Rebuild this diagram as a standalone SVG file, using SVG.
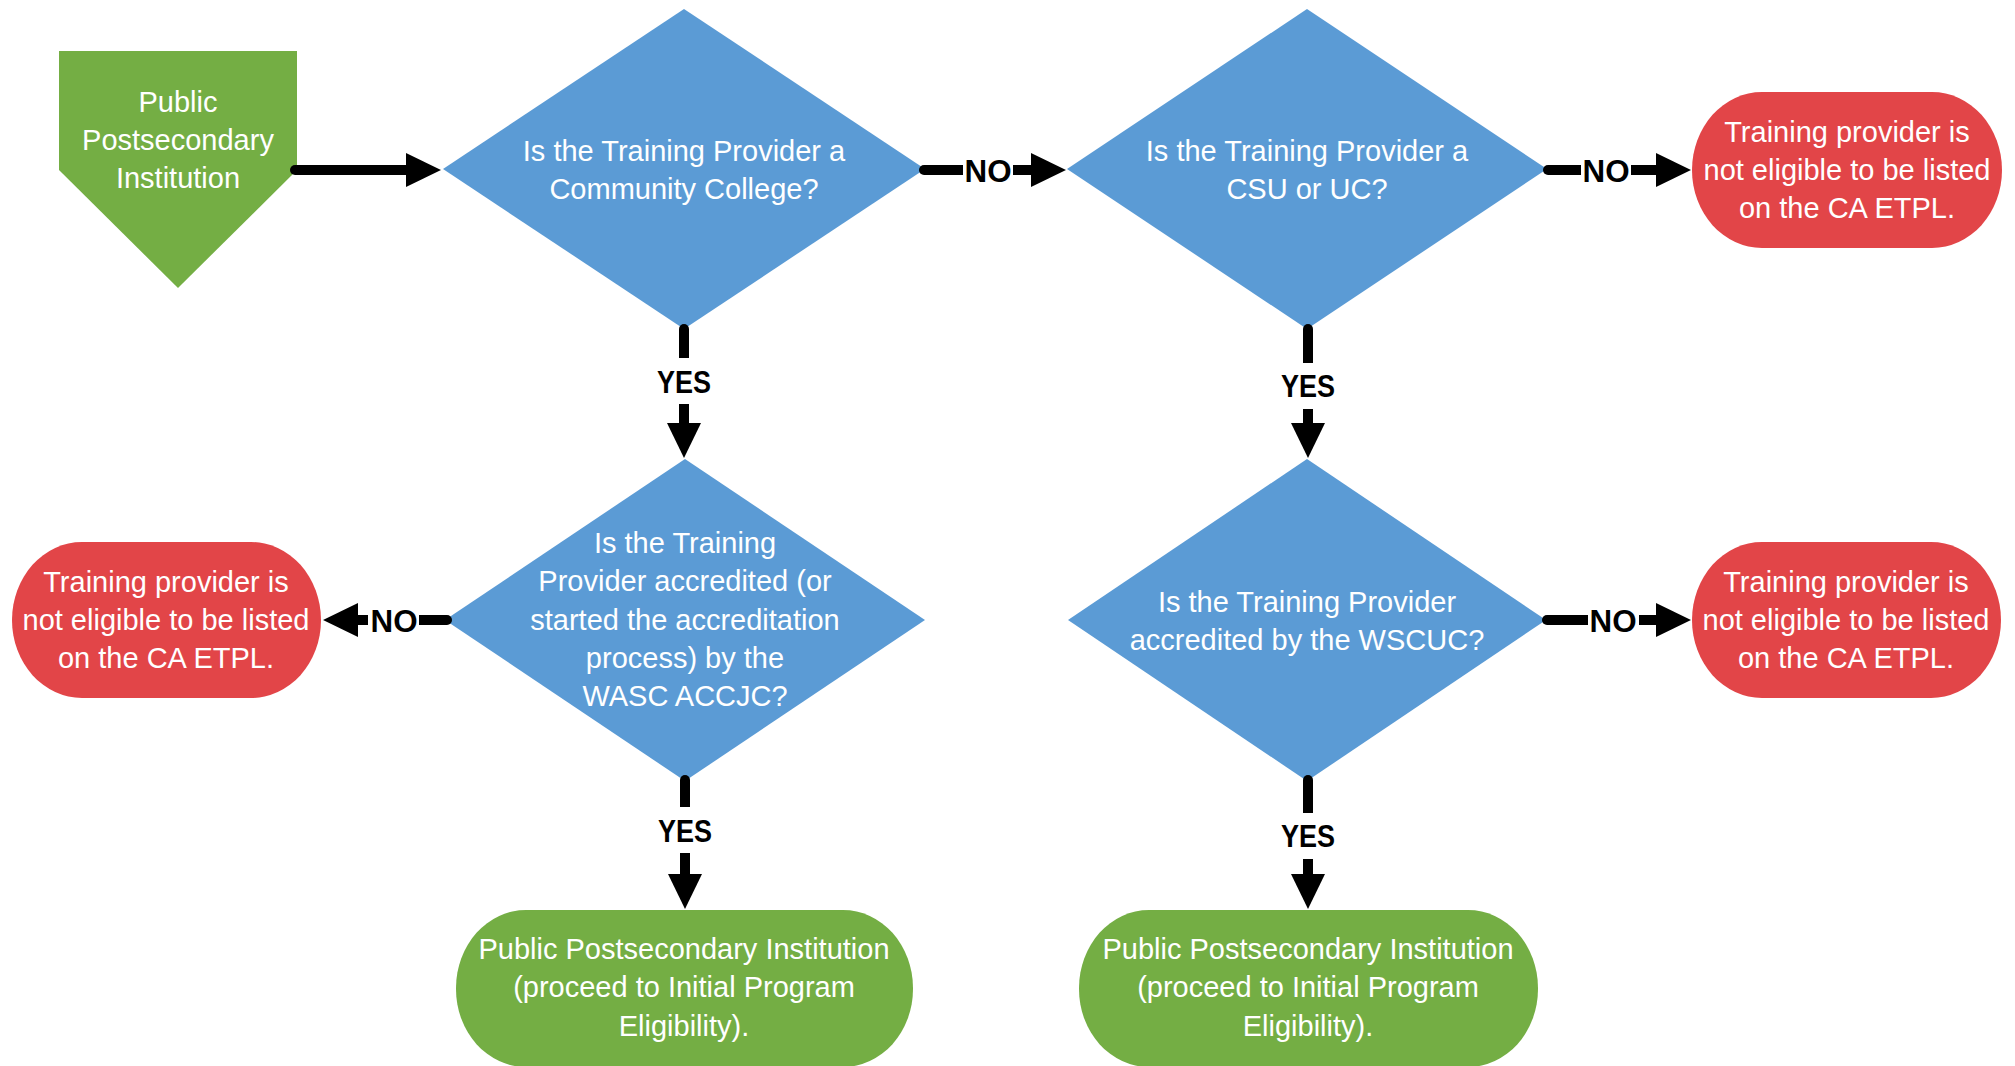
<svg xmlns="http://www.w3.org/2000/svg" width="2015" height="1066" viewBox="0 0 2015 1066">
<style>
.t{font-family:"Liberation Sans",Arial,sans-serif;font-size:29px;fill:#ffffff;text-anchor:middle}
.lbl{font-family:"Liberation Sans",Arial,sans-serif;font-size:32px;font-weight:bold;fill:#000000;text-anchor:middle}
.dec{fill:#5B9BD5}
.term-red{fill:#E24548}
.term-green{fill:#74AE44}
.conn{fill:none;stroke:#000000;stroke-width:10;stroke-linecap:round;marker-end:url(#ah)}
.bg{fill:#ffffff}
</style>
<defs>
<marker id="ah" markerUnits="userSpaceOnUse" markerWidth="36" markerHeight="34" refX="0" refY="17" orient="auto" overflow="visible">
<path d="M0,0 L35,17 L0,34 Z" fill="#000000"/>
</marker>
</defs>
<rect width="2015" height="1066" fill="#ffffff"/>

<g id="start">
<polygon class="term-green" points="59,51 297,51 297,170 178,288 59,170"/>
<text class="t" x="178" y="112">Public</text>
<text class="t" x="178" y="150">Postsecondary</text>
<text class="t" x="178" y="188">Institution</text>
</g>

<g id="d1">
<polygon class="dec" points="684,9 925,169 684,329 443,169"/>
<text class="t" x="684" y="161">Is the Training Provider a</text>
<text class="t" x="684" y="199">Community College?</text>
</g>

<g id="d2">
<polygon class="dec" points="1307,9 1547,169 1307,329 1067,169"/>
<text class="t" x="1307" y="161">Is the Training Provider a</text>
<text class="t" x="1307" y="199">CSU or UC?</text>
</g>

<g id="r1">
<rect class="term-red" x="1692" y="92" width="310" height="156" rx="70" ry="78"/>
<text class="t" x="1847" y="142">Training provider is</text>
<text class="t" x="1847" y="180">not eligible to be listed</text>
<text class="t" x="1847" y="218">on the CA ETPL.</text>
</g>

<g id="d3">
<polygon class="dec" points="685,459 925,620 685,781 445,620"/>
<text class="t" x="685" y="553">Is the Training</text>
<text class="t" x="685" y="591">Provider accredited (or</text>
<text class="t" x="685" y="630">started the accreditation</text>
<text class="t" x="685" y="668">process) by the</text>
<text class="t" x="685" y="706">WASC ACCJC?</text>
</g>

<g id="r2">
<rect class="term-red" x="12" y="542" width="309" height="156" rx="70" ry="78"/>
<text class="t" x="166" y="592">Training provider is</text>
<text class="t" x="166" y="630">not eligible to be listed</text>
<text class="t" x="166" y="668">on the CA ETPL.</text>
</g>

<g id="d4">
<polygon class="dec" points="1307,459 1546,620 1307,781 1068,620"/>
<text class="t" x="1307" y="612">Is the Training Provider</text>
<text class="t" x="1307" y="650">accredited by the WSCUC?</text>
</g>

<g id="r3">
<rect class="term-red" x="1692" y="542" width="309" height="156" rx="70" ry="78"/>
<text class="t" x="1846" y="592">Training provider is</text>
<text class="t" x="1846" y="630">not eligible to be listed</text>
<text class="t" x="1846" y="668">on the CA ETPL.</text>
</g>

<g id="g1">
<rect class="term-green" x="456" y="910" width="457" height="157" rx="70" ry="78"/>
<text class="t" x="684" y="959">Public Postsecondary Institution</text>
<text class="t" x="684" y="997">(proceed to Initial Program</text>
<text class="t" x="684" y="1036">Eligibility).</text>
</g>

<g id="g2">
<rect class="term-green" x="1079" y="910" width="459" height="157" rx="70" ry="78"/>
<text class="t" x="1308" y="959">Public Postsecondary Institution</text>
<text class="t" x="1308" y="997">(proceed to Initial Program</text>
<text class="t" x="1308" y="1036">Eligibility).</text>
</g>

<g id="connectors">
<path class="conn" d="M295,170 H406"/>
<path class="conn" d="M924,170 H1031"/>
<path class="conn" d="M1548,170 H1656"/>
<path class="conn" d="M447,620 H358"/>
<path class="conn" d="M1547,620 H1656"/>
<path class="conn" d="M684,329 V423"/>
<path class="conn" d="M1308,329 V423"/>
<path class="conn" d="M685,780 V874"/>
<path class="conn" d="M1308,780 V874"/>

<rect class="bg" x="963" y="156" width="50" height="30"/>
<text class="lbl" x="988" y="182" textLength="47" lengthAdjust="spacingAndGlyphs">NO</text>
<rect class="bg" x="1581" y="156" width="50" height="30"/>
<text class="lbl" x="1606" y="182" textLength="47" lengthAdjust="spacingAndGlyphs">NO</text>
<rect class="bg" x="368" y="606" width="51" height="30"/>
<text class="lbl" x="394" y="632" textLength="47" lengthAdjust="spacingAndGlyphs">NO</text>
<rect class="bg" x="1588" y="606" width="51" height="30"/>
<text class="lbl" x="1613" y="632" textLength="47" lengthAdjust="spacingAndGlyphs">NO</text>

<rect class="bg" x="652" y="358" width="64" height="46"/>
<text class="lbl" x="684" y="393" textLength="54" lengthAdjust="spacingAndGlyphs">YES</text>
<rect class="bg" x="1276" y="363" width="64" height="46"/>
<text class="lbl" x="1308" y="397" textLength="54" lengthAdjust="spacingAndGlyphs">YES</text>
<rect class="bg" x="653" y="807" width="64" height="46"/>
<text class="lbl" x="685" y="842" textLength="54" lengthAdjust="spacingAndGlyphs">YES</text>
<rect class="bg" x="1276" y="813" width="64" height="46"/>
<text class="lbl" x="1308" y="847" textLength="54" lengthAdjust="spacingAndGlyphs">YES</text>
</g>
</svg>
